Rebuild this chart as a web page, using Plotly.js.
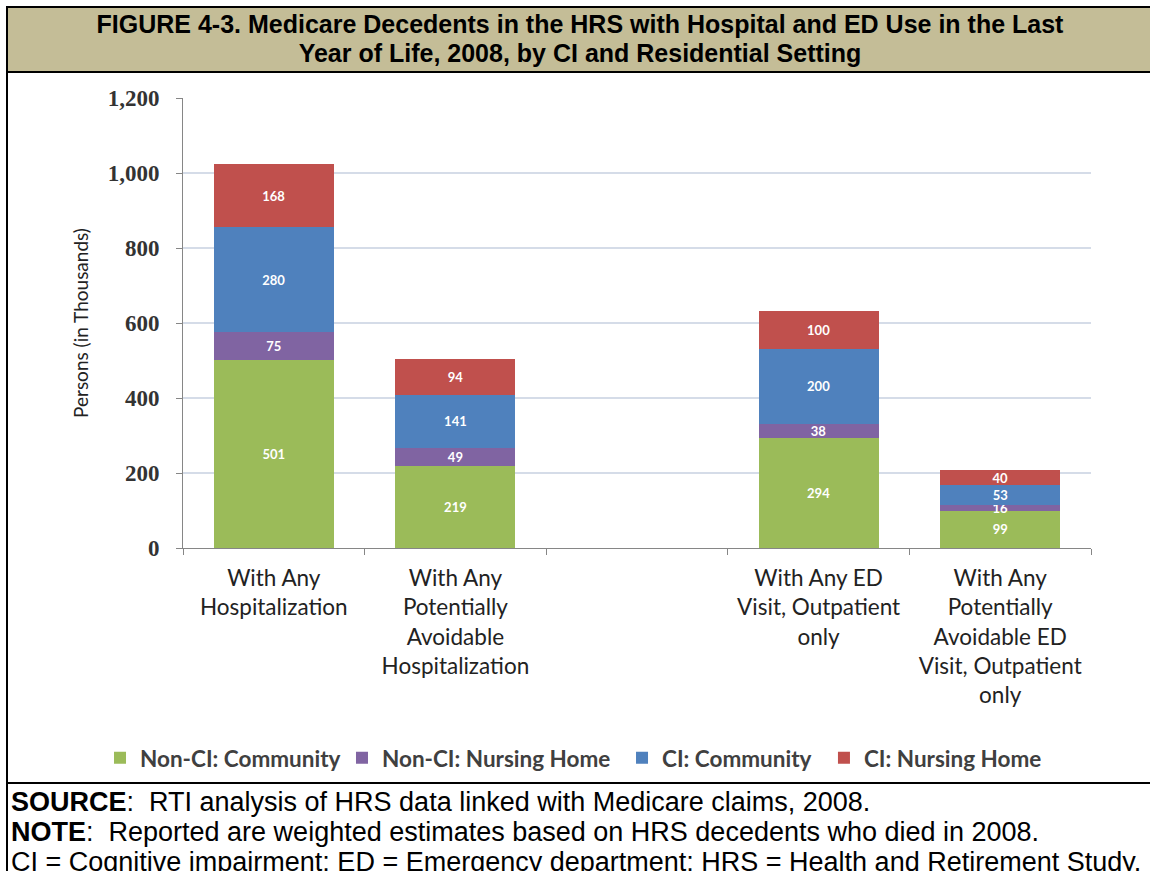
<!DOCTYPE html>
<html>
<head>
<meta charset="utf-8">
<script src="https://cdn.plot.ly/plotly-3.0.1.min.js"></script>
<style>
  html, body { margin: 0; padding: 0; background: #fff; width: 1150px; height: 871px; overflow: hidden; }
  #chart { position: absolute; left: 0; top: 0; width: 1150px; height: 871px; }
  .deco { position: absolute; pointer-events: none; }
  #titleband { left: 6px; top: 6px; width: 1144px; height: 61px; background: #C4BD97;
    border-top: 2px solid #000; border-bottom: 2px solid #000; border-left: 2px solid #000;
    font-family: "Liberation Sans", Arial, sans-serif; font-weight: bold; font-size: 25px;
    text-align: center; line-height: 29px; padding-top: 2px; box-sizing: content-box; color: #000; }
  #leftline { left: 6px; top: 6px; width: 2px; height: 865px; background: #000; }
  #footline { left: 6px; top: 782px; width: 1144px; height: 2px; background: #000; }
  #footer { left: 11px; top: 787px; width: 1140px; font-family: "Liberation Sans", Arial, sans-serif;
    font-size: 27px; line-height: 30px; color: #000; white-space: nowrap; }
</style>
</head>
<body>
<div id="chart"></div>
<div class="deco" id="leftline"></div>
<div class="deco" id="titleband">FIGURE 4-3. Medicare Decedents in the HRS with Hospital and ED Use in the Last<br>Year of Life, 2008, by CI and Residential Setting</div>
<div class="deco" id="footline"></div>
<div class="deco" id="footer"><b>SOURCE</b>:&nbsp; RTI analysis of HRS data linked with Medicare claims, 2008.<br><b>NOTE</b>:&nbsp; Reported are weighted estimates based on HRS decedents who died in 2008.<br>CI = Cognitive impairment; ED = Emergency department; HRS = Health and Retirement Study.</div>
<script>
const categories = [
  "With Any<br>Hospitalization",
  "With Any<br>Potentially<br>Avoidable<br>Hospitalization",
  " ",
  "With Any ED<br>Visit, Outpatient<br>only",
  "With Any<br>Potentially<br>Avoidable ED<br>Visit, Outpatient<br>only"
];
const nonCICommunity = [501, 219, null, 294, 99];
const nonCINursingHome = [75, 49, null, 38, 16];
const ciCommunity = [280, 141, null, 200, 53];
const ciNursingHome = [168, 94, null, 100, 40];
const seriesNames = ["Non-CI: Community", "Non-CI: Nursing Home", "CI: Community", "CI: Nursing Home"];
const seriesColors = ["#9BBB59", "#8064A2", "#4F81BD", "#C0504D"];
const seriesValues = [nonCICommunity, nonCINursingHome, ciCommunity, ciNursingHome];
const legendIds = ["legend", "legend2", "legend3", "legend4"];
const legendX = [-0.0914, 0.1751, 0.4835, 0.7059];

const traces = seriesValues.map((vals, i) => ({
  type: "bar",
  name: seriesNames[i],
  legend: legendIds[i],
  x: categories,
  y: vals,
  marker: { color: seriesColors[i], line: { width: 0 } },
  texttemplate: "%{y}",
  textposition: "inside",
  insidetextanchor: "middle",
  textangle: 0,
  constraintext: "none",
  textfont: { family: "Lato, sans-serif", size: 13, color: "#ffffff", weight: "bold" },
  hoverinfo: "skip"
}));

const layout = {
  width: 1150,
  height: 871,
  margin: { l: 183, r: 59, t: 98, b: 323, autoexpand: false },
  paper_bgcolor: "#ffffff",
  plot_bgcolor: "#ffffff",
  barmode: "stack",
  bargap: 0.34,
  showlegend: true,
  uniformtext: { mode: "show", minsize: 13 },
  xaxis: {
    type: "category",
    categoryorder: "array",
    categoryarray: categories,
    tickson: "boundaries",
    ticks: "outside",
    ticklen: 6,
    tickcolor: "#868686",
    showline: true,
    linecolor: "#868686",
    linewidth: 1,
    showgrid: false,
    ticklabelstandoff: 10,
    tickfont: { family: "Lato, sans-serif", size: 22.5, color: "#222222" },
    fixedrange: true
  },
  yaxis: {
    range: [0, 1200],
    dtick: 200,
    tickformat: ",d",
    ticks: "outside",
    ticklen: 6,
    tickcolor: "#868686",
    showline: true,
    linecolor: "#868686",
    linewidth: 1,
    gridcolor: "#D5DCE8",
    gridwidth: 1.5,
    zeroline: false,
    ticklabelstandoff: 12,
    tickfont: { family: "Liberation Serif, serif", size: 23, color: "#333333", weight: "bold" },
    title: { text: "Persons (in Thousands)", font: { family: "Lato, sans-serif", size: 19, color: "#222222" }, standoff: 14 },
    fixedrange: true
  }
};
legendIds.forEach((id, i) => {
  layout[id] = {
    orientation: "h",
    x: legendX[i], xanchor: "left",
    y: -0.467, yanchor: "middle",
    font: { family: "Lato, sans-serif", size: 22.5, color: "#404040", weight: "bold" },
    itemwidth: 30,
    bgcolor: "rgba(0,0,0,0)"
  };
});

Plotly.newPlot("chart", traces, layout, { displayModeBar: false, staticPlot: true });
</script>
</body>
</html>
